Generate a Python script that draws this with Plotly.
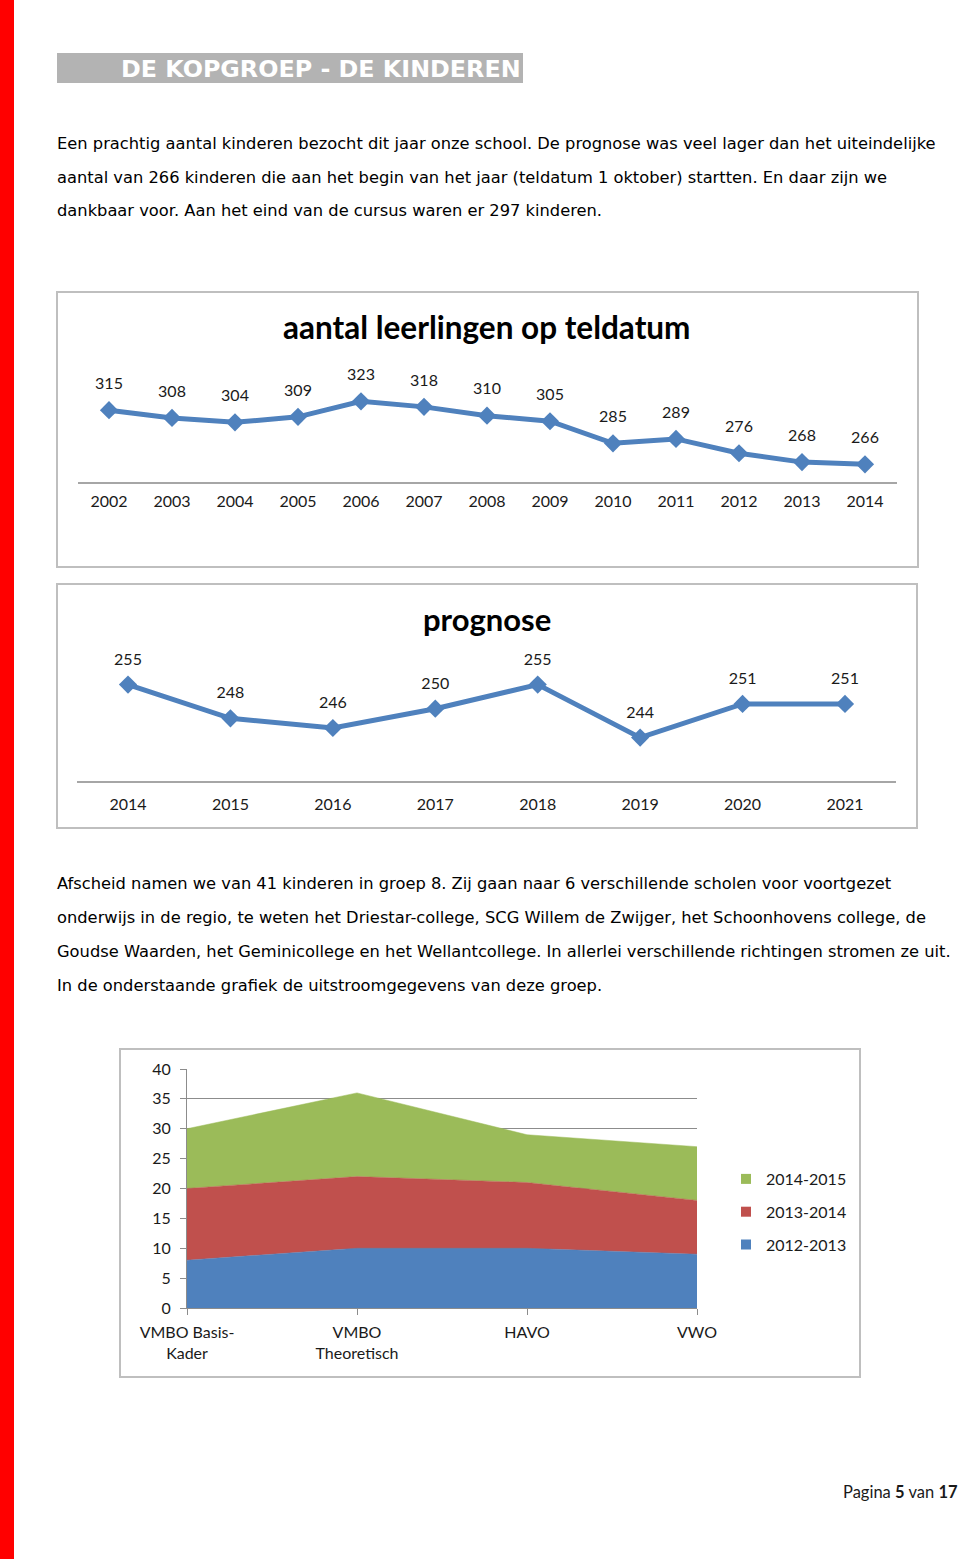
import plotly.graph_objects as go

W, H = 960, 1559

# ---------------- data ----------------
years_hist = ["2002", "2003", "2004", "2005", "2006", "2007", "2008",
              "2009", "2010", "2011", "2012", "2013", "2014"]
pupils_hist = [315, 308, 304, 309, 323, 318, 310, 305, 285, 289, 276, 268, 266]

years_prog = ["2014", "2015", "2016", "2017", "2018", "2019", "2020", "2021"]
pupils_prog = [255, 248, 246, 250, 255, 244, 251, 251]

school_types = ["VMBO Basis-<br>Kader", "VMBO<br>Theoretisch", "HAVO", "VWO"]
series_names = ["2012-2013", "2013-2014", "2014-2015"]
out_2012_2013 = [8, 10, 10, 9]
out_2013_2014 = [12, 12, 11, 9]
out_2014_2015 = [10, 14, 8, 9]

heading = "DE KOPGROEP - DE KINDEREN"
para1 = [
    "Een prachtig aantal kinderen bezocht dit jaar onze school. De prognose was veel lager dan het uiteindelijke",
    "aantal van 266 kinderen die aan het begin van het jaar (teldatum 1 oktober) startten. En daar zijn we",
    "dankbaar voor. Aan het eind van de cursus waren er 297 kinderen.",
]
para2 = [
    "Afscheid namen we van 41 kinderen in groep 8. Zij gaan naar 6 verschillende scholen voor voortgezet",
    "onderwijs in de regio, te weten het Driestar-college, SCG Willem de Zwijger, het Schoonhovens college, de",
    "Goudse Waarden, het Geminicollege en het Wellantcollege. In allerlei verschillende richtingen stromen ze uit.",
    "In de onderstaande grafiek de uitstroomgegevens van deze groep.",
]
title1 = "aantal leerlingen op teldatum"
title2 = "prognose"

# ---------------- styling ----------------
BLUE = "#4F81BD"
RED = "#C0504D"
GREEN = "#9BBB59"
CHART_FONT = "Lato"
TEXT_FONT = "DejaVu Sans"
DARK = "#1a1a1a"


def px(x):
    return x / W


def py(y):
    return 1 - y / H


fig = go.Figure()

# chart 1: history
fig.add_trace(go.Scatter(
    x=years_hist, y=pupils_hist, mode="lines+markers",
    line=dict(color=BLUE, width=5),
    marker=dict(symbol="diamond", size=14, color=BLUE),
    cliponaxis=False, showlegend=False, xaxis="x", yaxis="y"))
fig.add_trace(go.Scatter(
    x=years_hist, y=pupils_hist, mode="markers+text",
    text=[str(v) for v in pupils_hist], textposition="top center",
    textfont=dict(family=CHART_FONT, size=16, color=DARK),
    marker=dict(size=26, color="rgba(0,0,0,0)"),
    cliponaxis=False, showlegend=False, hoverinfo="skip",
    xaxis="x", yaxis="y"))

# chart 2: prognosis
fig.add_trace(go.Scatter(
    x=years_prog, y=pupils_prog, mode="lines+markers",
    line=dict(color=BLUE, width=5),
    marker=dict(symbol="diamond", size=14, color=BLUE),
    cliponaxis=False, showlegend=False, xaxis="x2", yaxis="y2"))
fig.add_trace(go.Scatter(
    x=years_prog, y=pupils_prog, mode="markers+text",
    text=[str(v) for v in pupils_prog], textposition="top center",
    textfont=dict(family=CHART_FONT, size=16, color=DARK),
    marker=dict(size=24, color="rgba(0,0,0,0)"),
    cliponaxis=False, showlegend=False, hoverinfo="skip",
    xaxis="x2", yaxis="y2"))

# chart 3: stacked area
for name, vals, col in zip(series_names,
                           [out_2012_2013, out_2013_2014, out_2014_2015],
                           [BLUE, RED, GREEN]):
    fig.add_trace(go.Scatter(
        x=school_types, y=vals, mode="lines", stackgroup="one",
        line=dict(color=col, width=0.5), fillcolor=col,
        name=name, showlegend=False, xaxis="x3", yaxis="y3"))
# legend entries (top to bottom: newest first)
for name, col in reversed(list(zip(series_names, [BLUE, RED, GREEN]))):
    fig.add_trace(go.Scatter(
        x=[None], y=[None], mode="markers", name=name,
        marker=dict(symbol="square", size=10, color=col),
        legendgroup=name, showlegend=True, xaxis="x3", yaxis="y3"))

tickfont = dict(family=CHART_FONT, size=16, color=DARK)

layout = dict(
    width=W, height=H,
    margin=dict(l=0, r=0, t=0, b=0, pad=0, autoexpand=False),
    paper_bgcolor="white", plot_bgcolor="rgba(0,0,0,0)",
    # chart 1 axes
    xaxis=dict(domain=[px(77.5), px(896.5)], anchor="y", type="category",
               range=[-0.5, 12.5], showline=True, linecolor="#A6A6A6",
               linewidth=2, showgrid=False, ticks="", tickfont=tickfont,
               ticklabelstandoff=4, zeroline=False, fixedrange=True),
    yaxis=dict(domain=[py(482), py(393.6)], anchor="x", range=[250, 330],
               visible=False, fixedrange=True),
    # chart 2 axes
    xaxis2=dict(domain=[px(76.8), px(896.2)], anchor="y2", type="category",
                range=[-0.5, 7.5], showline=True, linecolor="#A6A6A6",
                linewidth=2, showgrid=False, ticks="", tickfont=tickfont,
                ticklabelstandoff=8, zeroline=False, fixedrange=True),
    yaxis2=dict(domain=[py(781), py(660.5)], anchor="x2", range=[235, 260],
                visible=False, fixedrange=True),
    # chart 3 axes
    xaxis3=dict(domain=[px(187), px(697)], anchor="y3", type="category",
                range=[0, 3], showline=True, linecolor="#8C8C8C",
                linewidth=1, showgrid=False, ticks="outside", ticklen=6,
                tickcolor="#8C8C8C", tickfont=tickfont, zeroline=False,
                ticklabelstandoff=4, fixedrange=True),
    yaxis3=dict(domain=[py(1308), py(1069)], anchor="x3", range=[0, 40],
                dtick=5, showline=True, linecolor="#8C8C8C", linewidth=1,
                showgrid=True, gridcolor="#8C8C8C", gridwidth=1,
                ticks="outside", ticklen=6, tickcolor="#8C8C8C",
                ticklabelstandoff=6,
                tickfont=tickfont, zeroline=False, fixedrange=True),
    legend=dict(x=px(726), y=py(1162), xanchor="left", yanchor="top",
                traceorder="grouped", tracegroupgap=9,
                font=dict(family=CHART_FONT, size=16, color=DARK),
                bgcolor="rgba(0,0,0,0)"),
)
fig.update_layout(**layout)

shapes = [
    # red page bar
    dict(type="rect", xref="paper", yref="paper", x0=0, x1=px(14), y0=0, y1=1,
         fillcolor="#FF0000", line=dict(width=0), layer="below"),
    # heading bar
    dict(type="rect", xref="paper", yref="paper", x0=px(57), x1=px(523),
         y0=py(83), y1=py(53), fillcolor="#B3B3B3", line=dict(width=0),
         layer="below"),
    # chart frames
    dict(type="rect", xref="paper", yref="paper", x0=px(57), x1=px(918),
         y0=py(567), y1=py(292), line=dict(color="#BFBFBF", width=2),
         fillcolor="rgba(0,0,0,0)", layer="below"),
    dict(type="rect", xref="paper", yref="paper", x0=px(57), x1=px(917),
         y0=py(828), y1=py(584), line=dict(color="#BFBFBF", width=2),
         fillcolor="rgba(0,0,0,0)", layer="below"),
    dict(type="rect", xref="paper", yref="paper", x0=px(120), x1=px(860),
         y0=py(1377), y1=py(1049), line=dict(color="#BFBFBF", width=2),
         fillcolor="rgba(0,0,0,0)", layer="below"),
]
fig.update_layout(shapes=shapes)

fig.add_annotation(text="<b>" + heading + "</b>", xref="paper", yref="paper",
                   x=px(523), y=py(69), xanchor="right", yanchor="middle",
                   showarrow=False,
                   font=dict(family=TEXT_FONT, size=23.8, color="white"))
fig.add_annotation(text="<b>" + title1 + "</b>", xref="paper", yref="paper",
                   x=px(487), y=py(327), xanchor="center", yanchor="middle",
                   showarrow=False,
                   font=dict(family=CHART_FONT, size=31.5, color="black"))
fig.add_annotation(text="<b>" + title2 + "</b>", xref="paper", yref="paper",
                   x=px(487), y=py(619), xanchor="center", yanchor="middle",
                   showarrow=False,
                   font=dict(family=CHART_FONT, size=31, color="black"))
fig.add_annotation(text="Pagina <b>5</b> van <b>17</b>", xref="paper",
                   yref="paper", x=px(960), y=py(1492), xanchor="right",
                   yanchor="middle", showarrow=False,
                   font=dict(family=CHART_FONT, size=16.5, color=DARK))
for i, line in enumerate(para1):
    fig.add_annotation(text=line, xref="paper", yref="paper", x=px(55),
                       y=py(144 + i * 33.5), xanchor="left", yanchor="middle",
                       showarrow=False,
                       font=dict(family=TEXT_FONT, size=16.3, color="black"))
for i, line in enumerate(para2):
    fig.add_annotation(text=line, xref="paper", yref="paper", x=px(55),
                       y=py(884 + i * 33.7), xanchor="left", yanchor="middle",
                       showarrow=False,
                       font=dict(family=TEXT_FONT, size=16.3, color="black"))

fig.write_html("out.html", config={"displayModeBar": False},
               post_script="document.body.style.margin='0';")
